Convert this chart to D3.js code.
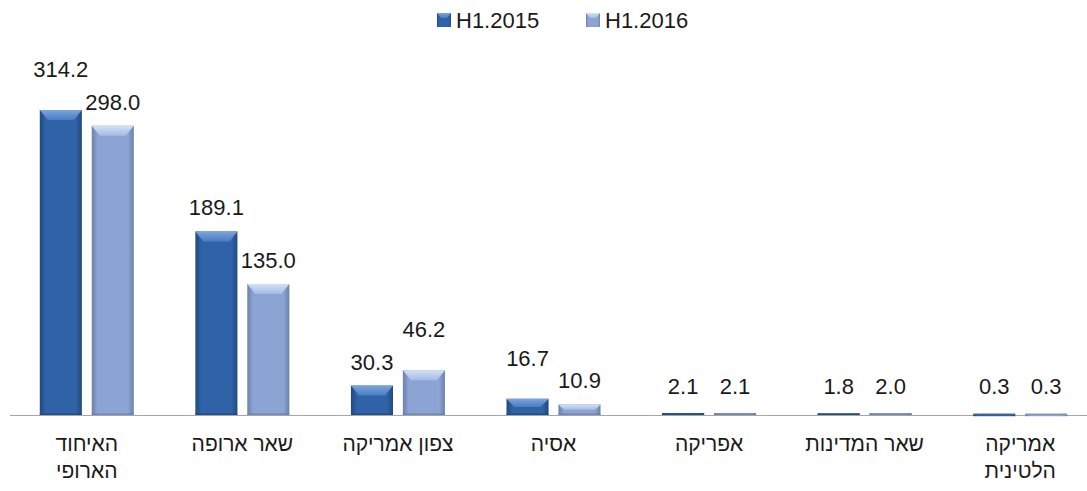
<!DOCTYPE html>
<html>
<head>
<meta charset="utf-8">
<script src="https://cdn.jsdelivr.net/npm/d3@7"></script>
<style>
  body { margin: 0; background: #fff; }
  text { font-family: "Liberation Sans", "DejaVu Sans", sans-serif; fill: #1a1a1a; }
</style>
</head>
<body>
<svg id="chart" width="1087" height="491"></svg>
<script>
const categories = [
  ["האיחוד", "הארופי"],
  ["שאר ארופה"],
  ["צפון אמריקה"],
  ["אסיה"],
  ["אפריקה"],
  ["שאר המדינות"],
  ["אמריקה", "הלטינית"]
];
const seriesNames = ["H1.2015", "H1.2016"];
const h2015 = [314.2, 189.1, 30.3, 16.7, 2.1, 1.8, 0.3];
const h2016 = [298.0, 135.0, 46.2, 10.9, 2.1, 2.0, 0.3];

const width = 1087, height = 491;
const baseY = 415;
const svg = d3.select("#chart");

const catKeys = categories.map((c, i) => i);
const x0 = d3.scaleBand().domain(catKeys).range([9, 1098]).padding(0);
const x1 = d3.scaleBand().domain(seriesNames).range([0, 94]).paddingInner(0.19);
const groupOffset = (x0.bandwidth() - 94) / 2;
const y = d3.scaleLinear().domain([0, 314.2]).range([baseY, 110]);

const palette = {
  "H1.2015": { edge: "#21497f", mid: "#2f62a6", top: "#7ba5dc", topDark: "#4a7cc0" },
  "H1.2016": { edge: "#6a81ad", mid: "#8ca4d3", top: "#d3e0f6", topDark: "#a6bbe2" }
};

const defs = svg.append("defs");
seriesNames.forEach((s, i) => {
  const c = palette[s];
  const g = defs.append("linearGradient").attr("id", "body" + i).attr("x1", 0).attr("x2", 1).attr("y1", 0).attr("y2", 0);
  g.append("stop").attr("offset", "0%").attr("stop-color", c.edge);
  g.append("stop").attr("offset", "14%").attr("stop-color", c.mid);
  g.append("stop").attr("offset", "86%").attr("stop-color", c.mid);
  g.append("stop").attr("offset", "100%").attr("stop-color", c.edge);
  const t = defs.append("linearGradient").attr("id", "top" + i).attr("x1", 0).attr("x2", 0).attr("y1", 0).attr("y2", 1);
  t.append("stop").attr("offset", "0%").attr("stop-color", c.top);
  t.append("stop").attr("offset", "100%").attr("stop-color", c.topDark);
});

// axis baseline
svg.append("line")
  .attr("x1", 10).attr("x2", width)
  .attr("y1", baseY + 0.5).attr("y2", baseY + 0.5)
  .attr("stroke", "#a6a6a6").attr("stroke-width", 1.2);

const rows = catKeys.map(i => seriesNames.map((s, si) => ({
  cat: i, series: s, si: si, value: si === 0 ? h2015[i] : h2016[i]
})));

const groups = svg.selectAll("g.group")
  .data(rows)
  .enter().append("g")
  .attr("class", "group")
  .attr("transform", (d, i) => "translate(" + (x0(i) + groupOffset) + ",0)");

const bars = groups.selectAll("g.bar")
  .data(d => d)
  .enter().append("g").attr("class", "bar");

bars.append("rect")
  .attr("x", d => x1(d.series))
  .attr("y", d => y(d.value))
  .attr("width", x1.bandwidth())
  .attr("height", d => Math.max(baseY - y(d.value), 1.5))
  .attr("fill", d => "url(#body" + d.si + ")");

// bevel on top
bars.append("path")
  .attr("d", d => {
    const bx = x1(d.series), bw = x1.bandwidth();
    const top = y(d.value);
    const h = baseY - top;
    const bev = Math.min(10, h * 0.5);
    const ins = Math.min(8, bev);
    if (h < 3) return "";
    return "M" + bx + "," + top + "L" + (bx + bw) + "," + top +
      "L" + (bx + bw - ins) + "," + (top + bev) + "L" + (bx + ins) + "," + (top + bev) + "Z";
  })
  .attr("fill", d => "url(#top" + d.si + ")");

bars.append("rect")
  .attr("x", d => x1(d.series))
  .attr("y", baseY - 1.5)
  .attr("width", x1.bandwidth())
  .attr("height", 1.5)
  .attr("fill", d => palette[d.series].edge)
  .attr("opacity", 0.8);

// value labels with simple overlap lift
const fmt = d3.format(".1f");
bars.append("text")
  .attr("x", d => x1(d.series) + x1.bandwidth() / 2)
  .attr("y", d => {
    const pair = rows[d.cat];
    const other = pair[1 - d.si];
    let ly = Math.min(y(d.value) - 24, baseY - 29);
    const lbl = fmt(d.value);
    const diff = y(other.value) - y(d.value);
    if (lbl.length >= 4 && diff > 0 && diff < 20) ly = y(d.value) - 41;
    return ly + 8;
  })
  .attr("text-anchor", "middle")
  .style("font-size", "22px")
  .text(d => fmt(d.value));

// category labels
const catLabels = svg.selectAll("text.cat")
  .data(categories)
  .enter().append("text")
  .attr("class", "cat")
  .attr("text-anchor", "middle")
  .attr("x", (d, i) => x0(i) + x0.bandwidth() / 2)
  .attr("y", 451)
  .style("font-size", "21px");
catLabels.selectAll("tspan")
  .data(d => d)
  .enter().append("tspan")
  .attr("x", function () { return d3.select(this.parentNode).attr("x"); })
  .attr("dy", (d, i) => i === 0 ? 0 : 27)
  .text(d => d);

// legend
const legend = svg.append("g").attr("transform", "translate(437,13)");
const legX = [0, 149];
seriesNames.forEach((s, i) => {
  const g = legend.append("g").attr("transform", "translate(" + legX[i] + ",0)");
  g.append("rect").attr("width", 14).attr("height", 14).attr("fill", "url(#body" + i + ")");
  g.append("path").attr("d", "M0,0L14,0L10,5L4,5Z").attr("fill", "url(#top" + i + ")");
  g.append("text").attr("x", 19).attr("y", 15).style("font-size", "22px").text(s);
});
</script>
</body>
</html>
